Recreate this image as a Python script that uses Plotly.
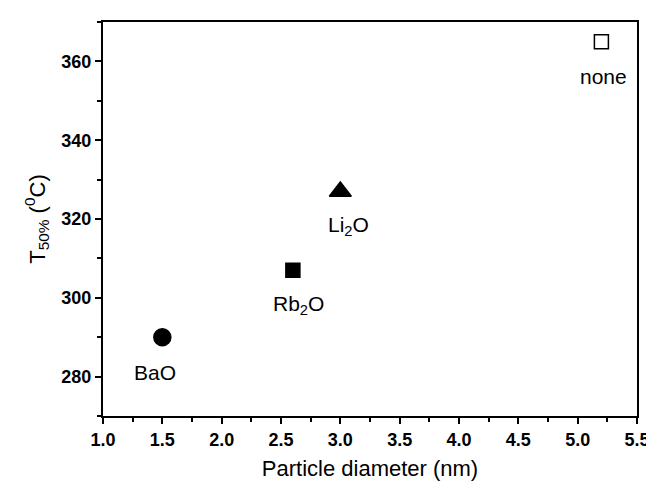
import plotly.graph_objects as go

names = ["BaO", "Rb<sub>2</sub>O", "Li<sub>2</sub>O", "none"]
diameter = [1.5, 2.6, 3.0, 5.2]
t50 = [290, 307, 327, 365]
symbols = ["circle", "square", "triangle-up", "square-open"]
sizes = [17, 14, 19, 14]
label_dx = [-7, 6, 8, 2]

x_ticks = [1.0, 1.5, 2.0, 2.5, 3.0, 3.5, 4.0, 4.5, 5.0, 5.5]
y_ticks = [280, 300, 320, 340, 360]

FONT = "Liberation Sans, Arial"

fig = go.Figure()
for n, xv, yv, s, sz in zip(names, diameter, t50, symbols, sizes):
    fig.add_trace(go.Scatter(
        x=[xv], y=[yv], mode="markers", name=n,
        marker=dict(symbol=s, size=sz, color="black",
                    line=dict(color="black", width=1.5)),
        showlegend=False))

for n, xv, yv, dx in zip(names, diameter, t50, label_dx):
    fig.add_annotation(x=xv, y=yv, text=n, showarrow=False,
                       xshift=dx, yshift=-35,
                       font=dict(family=FONT, size=21, color="black"))

axis_common = dict(showline=True, linecolor="black", linewidth=2, mirror=True,
                   ticks="outside", ticklen=6, tickwidth=1.5, tickcolor="black",
                   showgrid=False, zeroline=False,
                   tickfont=dict(family=FONT, size=18, color="black"))

fig.update_xaxes(range=[1.0, 5.5], tickvals=x_ticks,
                 ticktext=["<b>%.1f</b>" % v for v in x_ticks],
                 minor=dict(ticks="outside", ticklen=4, tickwidth=1.5, tickcolor="black", dtick=0.25),
                 title=dict(text="Particle diameter (nm)", standoff=12,
                            font=dict(family=FONT, size=22, color="black")),
                 **axis_common)
fig.update_yaxes(range=[270, 370], tickvals=y_ticks,
                 ticktext=["<b>%d</b>" % v for v in y_ticks],
                 minor=dict(ticks="outside", ticklen=4, tickwidth=1.5, tickcolor="black", dtick=10, tick0=270),
                 title=dict(text="T<sub>50%</sub> (<sup>0</sup>C)", standoff=10,
                            font=dict(family=FONT, size=22, color="black")),
                 **axis_common)

fig.update_layout(width=654, height=481, plot_bgcolor="white", paper_bgcolor="white",
                  margin=dict(l=95, r=14, t=14, b=68))
fig.write_html("out.html")
